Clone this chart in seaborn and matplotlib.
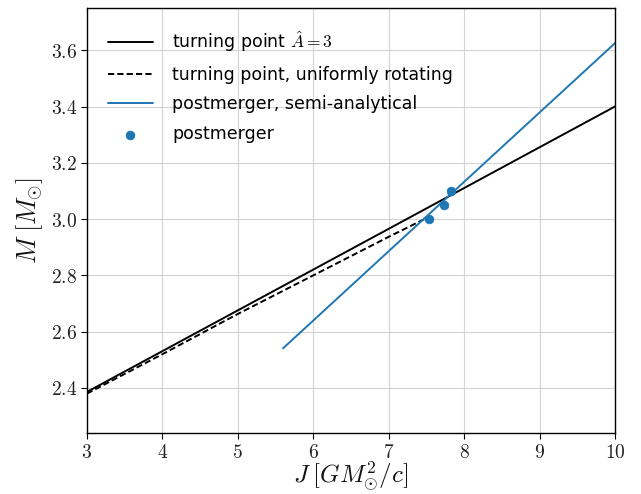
import matplotlib
matplotlib.use("Agg")
import matplotlib.pyplot as plt
import seaborn as sns
import numpy as np
import pandas as pd
from matplotlib.ticker import FuncFormatter

# data
tp_J = [3.0, 10.0]
tp_M = [2.386, 3.40]
ur_J = [3.0, 4.0, 5.0, 6.0, 7.0, 7.55]
ur_M = [2.380, 2.520, 2.663, 2.800, 2.937, 3.010]
sa_J = [5.6, 10.0]
sa_M = [2.541, 3.625]
pm_J = [7.53, 7.73, 7.82]
pm_M = [3.00, 3.05, 3.10]

sns.set_theme(style="whitegrid")
plt.rcParams['font.family'] = ['DejaVu Sans']
plt.rcParams['mathtext.fontset'] = 'cm'

fig = plt.figure(figsize=(6.41, 4.94), dpi=100)
ax = fig.add_axes([0.1357, 0.1235, 0.8237, 0.8603])

blue = "#1f77b4"
sns.lineplot(x=tp_J, y=tp_M, ax=ax, color="black", lw=1.4, label=r"turning point $\hat{A}=3$")
sns.lineplot(x=ur_J, y=ur_M, ax=ax, color="black", lw=1.4, linestyle=(0, (3.2, 1.6)), label="turning point, uniformly rotating")
sns.lineplot(x=sa_J, y=sa_M, ax=ax, color=blue, lw=1.4, label="postmerger, semi-analytical")
sns.scatterplot(x=pm_J, y=pm_M, ax=ax, color=blue, s=40, edgecolor=blue, label="postmerger", zorder=5)

ax.set_xlim(3, 10)
ax.set_ylim(2.24, 3.75)
ax.set_xticks(range(3, 11))
ax.set_yticks([2.4, 2.6, 2.8, 3.0, 3.2, 3.4, 3.6])
ax.xaxis.set_major_formatter(FuncFormatter(lambda v, p: r"$%d$" % v))
ax.yaxis.set_major_formatter(FuncFormatter(lambda v, p: r"$%.1f$" % v))
ax.tick_params(axis="both", labelsize=14, direction="out", length=4, width=0.8, color="black",
               labelcolor="#222222", bottom=True, left=True, pad=3)
ax.set_xlabel(r"$J\;[GM_{\odot}^2/c]$", fontsize=18, labelpad=-1, color="#111111")
ax.set_ylabel(r"$M\;[M_{\odot}]$", fontsize=19, labelpad=4, color="#111111")
ax.grid(True, color="#d3d3d3", lw=0.8)
for s in ax.spines.values():
    s.set_color("black")
    s.set_linewidth(1.0)
ax.set_facecolor("white")
leg = ax.legend(loc="upper left", fontsize=12.5, frameon=False, handlelength=2.6,
                handletextpad=1.1, labelspacing=0.68, borderaxespad=0.8)
for t in leg.get_texts():
    t.set_color("black")

fig.savefig("out.png", dpi=100)
